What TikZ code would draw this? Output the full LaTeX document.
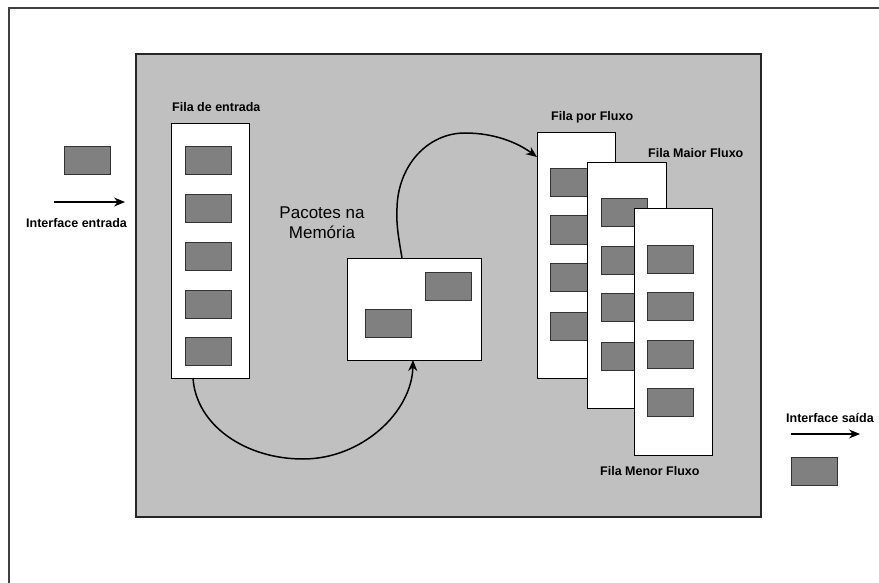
\documentclass[tikz,border=0pt]{standalone}
\usepackage{fontspec}
\setmainfont{Liberation Sans}
\usetikzlibrary{calc,arrows.meta}
\definecolor{panelgray}{HTML}{C0C0C0}
\definecolor{pktgray}{HTML}{808080}
\definecolor{pktline}{HTML}{333333}
\begin{document}
\begin{tikzpicture}[x=1pt,y=-1pt,
  pkt/.style={draw=pktline, fill=pktgray, line width=1pt, minimum width=46pt, minimum height=28pt, inner sep=0pt, outer sep=0pt, anchor=north west},
  qbox/.style={draw=black, fill=white, line width=1pt, inner sep=0pt, outer sep=0pt, anchor=north west},
  lbl/.style={font=\bfseries\fontsize{12.5}{15}\selectfont, anchor=west, inner sep=0pt},
  conn/.style={line width=1.5pt, -{Stealth[length=11pt,width=9pt]}}
]
\useasboundingbox (0,0) rectangle (879,583);
% outer frame (only left and top visible)
\draw[line width=1.5pt, black!75] (9,583) -- (9,8) -- (879,8);
% gray panel
\node[draw=black!85, fill=panelgray, line width=1.2pt, minimum width=625pt, minimum height=463pt, inner sep=0pt, outer sep=0pt, anchor=north west] (panel) at (136,54) {};

% input side
\node[pkt] (pin) at (64,147) {};
\coordinate (ain1) at (54,202);
\coordinate (ain2) at (125,202);
\draw[line width=1.5pt, -{Stealth[length=11pt,width=9pt]}] (ain1) -- (ain2);
\node[lbl] (lin) at (26,223) {Interface entrada};

% input queue
\node[lbl] (lfe) at (172,107) {Fila de entrada};
\node[qbox, minimum width=78pt, minimum height=254pt] (fe) at (171,124) {};
\foreach \y/\n in {147/1,195/2,242/3,290/4,337/5}
  \node[pkt] (fe\n) at (185,\y) {};

% memory
\node[font=\fontsize{17}{20}\selectfont, align=center, inner sep=0pt] (lmem) at (322,223) {Pacotes na\\Memória};
\node[qbox, minimum width=134pt, minimum height=102pt] (mem) at (347,258) {};
\node[pkt] (m1) at (425,272) {};
\node[pkt] (m2) at (365,309) {};

% per-flow queues
\node[lbl] (lf1) at (551,117) {Fila por Fluxo};
\node[qbox, minimum width=78pt, minimum height=245pt] (f1) at (537,133) {};
\foreach \y/\n in {169/1,216/2,263/3,312/4}
  \node[pkt] (fa\n) at (550,\y) {};

\node[lbl] (lf2) at (648,153) {Fila Maior Fluxo};
\node[qbox, minimum width=79pt, minimum height=245pt] (f2) at (587,163) {};
\foreach \y/\n in {199/1,246/2,293/3,342/4}
  \node[pkt] (fb\n) at (601,\y) {};

\node[qbox, minimum width=78pt, minimum height=246pt] (f3) at (634,209) {};
\foreach \y/\n in {245/1,292/2,340/3,388/4}
  \node[pkt] (fc\n) at (647,\y) {};
\node[lbl] (lf3) at (600,471) {Fila Menor Fluxo};

% curves
\coordinate (c1s) at ($(fe.south west)+(22,0)$);
\coordinate (c1e) at ($(mem.south west)+(66,0)$);
\draw[conn] (c1s) .. controls (196,425) and (245,459) .. (303,459)
  .. controls (362,459) and (412,412) .. (c1e);
\coordinate (c2s) at ($(mem.north west)+(55,0)$);
\coordinate (c2e) at ($(f1.north west)+(0,24)$);
\draw[conn] (c2s) .. controls (399,240) and (396,225) .. (397,208)
  .. controls (398,165) and (428,133) .. (465,133)
  .. controls (495,133) and (518,143) .. (c2e);

% output side
\node[lbl] (lout) at (786,418) {Interface saída};
\coordinate (aout1) at (791,434);
\coordinate (aout2) at (860,434);
\draw[line width=1.5pt, -{Stealth[length=11pt,width=9pt]}] (aout1) -- (aout2);
\node[pkt] (pout) at (791,457) {};
\end{tikzpicture}
\end{document}
